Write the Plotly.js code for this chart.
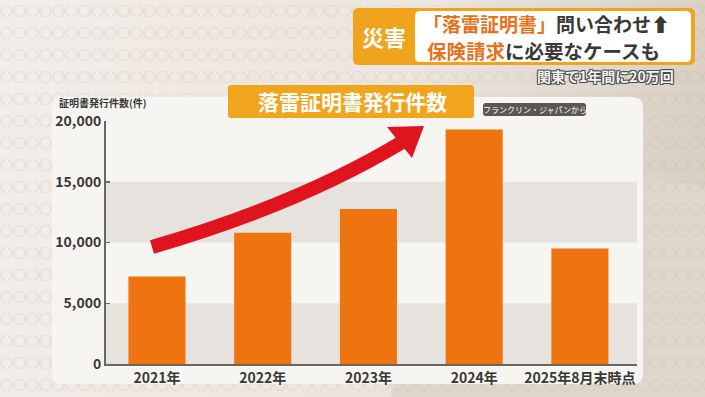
<!DOCTYPE html>
<html>
<head>
<meta charset="utf-8">
<script src="https://cdn.plot.ly/plotly-3.0.1.min.js"></script>
<style>
html,body{margin:0;padding:0;}
body{
  width:705px;height:397px;overflow:hidden;
  background:
    radial-gradient(circle at 50% 50%, transparent 0 4.5px, rgba(185,165,145,0.16) 5px 6px, transparent 6.5px) 0 0/13px 22px,
    radial-gradient(circle at 640px 430px, #e0d7cc 0 250px, transparent 252px),
    linear-gradient(100deg, #f1ede8 0%, #ece6df 55%, #d6cbbe 100%);
}
#chart{width:705px;height:397px;}
</style>
</head>
<body>
<div id="chart"></div>
<script>
// ---- data ----
const categories = ['2021年', '2022年', '2023年', '2024年', '2025年8月末時点'];
const counts = [7200, 10800, 12750, 19300, 9500];
const yTickVals = [0, 5000, 10000, 15000, 20000];
const yTickText = ['0', '5,000', '10,000', '15,000', '20,000'];
const bandRanges = [[0, 5000], [10000, 15000]];

// ---- layout helpers (pixel -> paper) ----
const L = 106, R = 637, T = 121, B = 364;
const px = X => (X - L) / (R - L);
const py = Y => (B - Y) / (B - T);
const P = (X, Y) => px(X).toFixed(5) + ',' + py(Y).toFixed(5);
function rr(x0, y0, x1, y1, r) {
  return `M${P(x0 + r, y0)} L${P(x1 - r, y0)} Q${P(x1, y0)} ${P(x1, y0 + r)} ` +
         `L${P(x1, y1 - r)} Q${P(x1, y1)} ${P(x1 - r, y1)} L${P(x0 + r, y1)} ` +
         `Q${P(x0, y1)} ${P(x0, y1 - r)} L${P(x0, y0 + r)} Q${P(x0, y0)} ${P(x0 + r, y0)} Z`;
}
const FONT = 'Noto Sans CJK JP, DejaVu Sans, sans-serif';

const shapes = [];
// white panel
shapes.push({type: 'path', xref: 'paper', yref: 'paper', layer: 'below',
  path: rr(52, 97, 643, 384, 10), fillcolor: '#f7f5f2', line: {width: 0}});
// grey bands
bandRanges.forEach(b => shapes.push({type: 'rect', xref: 'paper', yref: 'y', layer: 'below',
  x0: 0, x1: 1, y0: b[0], y1: b[1], fillcolor: '#e6e3df', line: {width: 0}}));
// header frame
shapes.push({type: 'path', xref: 'paper', yref: 'paper', path: rr(353, 8, 695, 65, 6),
  fillcolor: '#f0a31c', line: {width: 0}});
shapes.push({type: 'path', xref: 'paper', yref: 'paper', path: rr(415, 11, 691, 62, 5),
  fillcolor: '#ffffff', line: {width: 0}});
// chart title box
shapes.push({type: 'path', xref: 'paper', yref: 'paper', path: rr(228, 85, 474, 118, 3),
  fillcolor: '#f0a51c', line: {width: 0}});
// source label box
shapes.push({type: 'path', xref: 'paper', yref: 'paper', path: rr(483, 103, 586, 116, 3),
  fillcolor: '#5b5651', line: {width: 0}});
// red arrow shaft
shapes.push({type: 'path', xref: 'paper', yref: 'paper',
  path: `M${P(152, 247)} Q${P(300, 204)} ${P(404, 141)}`,
  line: {color: '#e0141e', width: 14}, fillcolor: 'rgba(0,0,0,0)'});
// red arrow head
shapes.push({type: 'path', xref: 'paper', yref: 'paper',
  path: `M${P(424, 126)} L${P(412, 158)} L${P(387, 127)} Z`,
  fillcolor: '#e0141e', line: {width: 0}});

const annotations = [
  {xref: 'paper', yref: 'paper', x: px(384), y: py(36), xanchor: 'center', yanchor: 'middle',
   text: '災害', showarrow: false, font: {family: FONT, size: 22, color: '#ffffff', weight: 'bold'}},
  {xref: 'paper', yref: 'paper', x: px(421), y: py(24), xanchor: 'left', yanchor: 'middle',
   text: '<span style="color:#e8711a">「落雷証明書」</span>問い合わせ⬆', showarrow: false,
   font: {family: FONT, size: 19, color: '#3a3835', weight: 'bold'}},
  {xref: 'paper', yref: 'paper', x: px(425), y: py(50), xanchor: 'left', yanchor: 'middle',
   text: '<span style="color:#e8711a">保険請求</span>に必要なケースも', showarrow: false,
   font: {family: FONT, size: 19.5, color: '#3a3835', weight: 'bold'}},
  {xref: 'paper', yref: 'paper', x: px(676), y: py(76), xanchor: 'right', yanchor: 'middle',
   text: '関東で1年間に20万回', showarrow: false,
   font: {family: FONT, size: 14, color: '#f4f4f4', weight: 'bold',
          shadow: '1px 1px 0 #4a4a4a, -1px -1px 0 #4a4a4a, 1px -1px 0 #4a4a4a, -1px 1px 0 #4a4a4a'}},
  {xref: 'paper', yref: 'paper', x: px(352), y: py(101), xanchor: 'center', yanchor: 'middle',
   text: '落雷証明書発行件数', showarrow: false, font: {family: FONT, size: 21, color: '#ffffff', weight: 'bold'}},
  {xref: 'paper', yref: 'paper', x: px(534.5), y: py(109.5), xanchor: 'center', yanchor: 'middle',
   text: 'フランクリン・ジャパンから', showarrow: false, font: {family: FONT, size: 8, color: '#ffffff'}},
  {xref: 'paper', yref: 'paper', x: px(57), y: py(103), xanchor: 'left', yanchor: 'middle',
   text: '証明書発行件数(件)', showarrow: false, font: {family: FONT, size: 10, color: '#3a3835', weight: 'bold'}}
];

const trace = {
  type: 'bar', x: categories, y: counts, width: 0.54,
  marker: {color: '#ef7410', line: {width: 0}}, hoverinfo: 'skip'
};

const layout = {
  width: 705, height: 397,
  margin: {l: L, r: 705 - R, t: T, b: 397 - B, pad: 0},
  paper_bgcolor: 'rgba(0,0,0,0)', plot_bgcolor: 'rgba(0,0,0,0)',
  showlegend: false,
  xaxis: {type: 'category', range: [-0.482, 4.54], showgrid: false, zeroline: false,
    showline: true, linecolor: '#6b6661', linewidth: 2, ticks: '',
    tickfont: {family: FONT, size: 14, color: '#3a3835', weight: 'bold'}, fixedrange: true},
  yaxis: {range: [0, 20000], tickvals: yTickVals, ticktext: yTickText, showgrid: false, zeroline: false,
    showline: true, linecolor: '#6b6661', linewidth: 2, ticks: 'inside', ticklen: 4, tickwidth: 1.5,
    tickcolor: '#6b6661', tickfont: {family: FONT, size: 14, color: '#3a3835', weight: 'bold'}, fixedrange: true},
  shapes: shapes, annotations: annotations
};

Plotly.newPlot('chart', [trace], layout, {displayModeBar: false, staticPlot: true});
</script>
</body>
</html>
